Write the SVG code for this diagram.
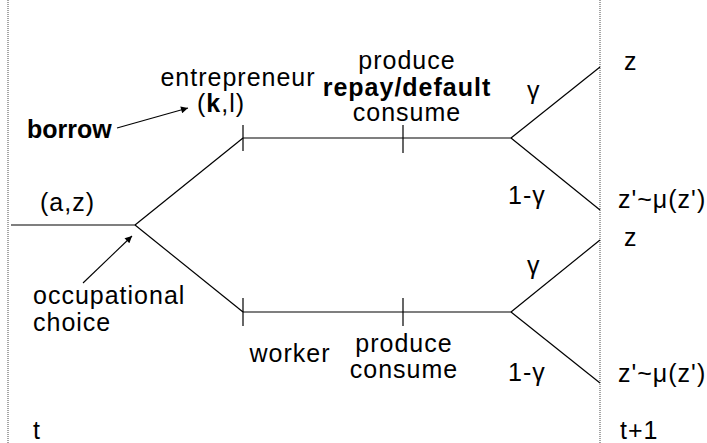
<svg xmlns="http://www.w3.org/2000/svg" width="707" height="443" viewBox="0 0 707 443">
  <defs>
    <marker id="arrow" viewBox="0 0 10 10" refX="10" refY="5" markerWidth="11" markerHeight="7" markerUnits="userSpaceOnUse" orient="auto">
      <path d="M0,0 L10,5 L0,10 z" fill="#000"/>
    </marker>
    <style>
      .lbl { font-family: "Liberation Sans", Arial, sans-serif; font-size: 25px; letter-spacing: 1px; fill: #000; }
      .b { font-weight: bold; }
      .tight { letter-spacing: 0; }
      .mid { text-anchor: middle; }
      .edge { stroke: #000; stroke-width: 1.2; fill: none; }
      .tick { stroke: #000; stroke-width: 1.2; }
      .period { stroke: #888; stroke-width: 1.5; stroke-dasharray: 1 1; }
      .ptr { stroke: #000; stroke-width: 1.1; fill: none; marker-end: url(#arrow); }
    </style>
  </defs>
  <rect width="707" height="443" fill="#fff"/>

  <!-- period boundaries -->
  <g id="periods">
    <line class="period" x1="8" y1="0" x2="8" y2="443"/>
    <line class="period" x1="600" y1="0" x2="600" y2="443"/>
  </g>

  <!-- tree edges -->
  <g id="connectors">
    <line class="edge" x1="11" y1="225" x2="135" y2="225"/>
    <line class="edge" x1="135" y1="225" x2="243" y2="138"/>
    <line class="edge" x1="135" y1="225" x2="243" y2="312"/>
    <line class="edge" x1="243" y1="138" x2="511" y2="138"/>
    <line class="edge" x1="243" y1="312" x2="511" y2="312"/>
    <line class="edge" x1="511" y1="138" x2="600" y2="67"/>
    <line class="edge" x1="511" y1="138" x2="600" y2="210"/>
    <line class="edge" x1="511" y1="312" x2="600" y2="240"/>
    <line class="edge" x1="511" y1="312" x2="600" y2="383"/>
    <line class="tick" x1="243" y1="125" x2="243" y2="151"/>
    <line class="tick" x1="403" y1="125" x2="403" y2="153"/>
    <line class="tick" x1="243" y1="298" x2="243" y2="326"/>
    <line class="tick" x1="403" y1="298" x2="403" y2="326"/>
    <line class="ptr" x1="117" y1="128" x2="188" y2="108"/>
    <line class="ptr" x1="83" y1="283" x2="132" y2="236"/>
  </g>

  <g id="start">
    <text class="lbl" x="40" y="211">(a,z)</text>
    <text class="lbl" x="33" y="439">t</text>
  </g>

  <g id="choice">
    <text class="lbl" x="33" y="304">occupational</text>
    <text class="lbl" x="33" y="331">choice</text>
  </g>

  <g id="entrepreneur">
    <text class="lbl mid" x="238" y="86">entrepreneur</text>
    <text class="lbl mid" x="221" y="112">(<tspan class="b">k</tspan>,l)</text>
    <text class="lbl b tight" x="27" y="138">borrow</text>
  </g>

  <g id="entrepreneur-stage">
    <text class="lbl mid" x="407" y="69">produce</text>
    <text class="lbl b mid" x="407" y="96">repay/default</text>
    <text class="lbl mid" x="407" y="121">consume</text>
  </g>

  <g id="worker">
    <text class="lbl mid" x="290" y="362">worker</text>
  </g>

  <g id="worker-stage">
    <text class="lbl mid" x="404" y="352">produce</text>
    <text class="lbl mid" x="404" y="378">consume</text>
  </g>

  <g id="upper-draw">
    <text class="lbl" x="527" y="99">γ</text>
    <text class="lbl" x="508" y="204">1-γ</text>
    <text class="lbl" x="624" y="70">z</text>
    <text class="lbl" x="618" y="208">z'~μ(z')</text>
  </g>

  <g id="lower-draw">
    <text class="lbl" x="527" y="274">γ</text>
    <text class="lbl" x="508" y="381">1-γ</text>
    <text class="lbl" x="624" y="246">z</text>
    <text class="lbl" x="618" y="382">z'~μ(z')</text>
    <text class="lbl" x="620" y="439">t+1</text>
  </g>
</svg>
